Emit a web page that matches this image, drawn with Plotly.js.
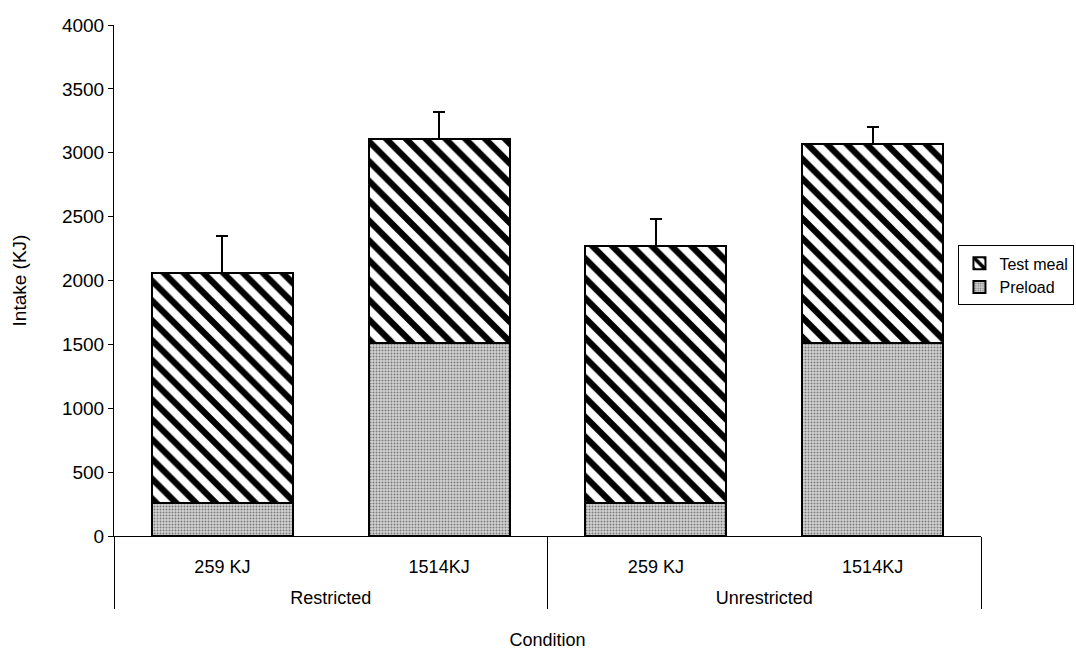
<!DOCTYPE html>
<html>
<head>
<meta charset="utf-8">
<script src="https://cdn.plot.ly/plotly-3.0.1.min.js"></script>
<style>html,body{margin:0;padding:0;background:#fff;}#chart{width:1076px;height:653px;}</style>
</head>
<body>
<div id="chart"></div>
<script>
const groups = ["<br>Restricted", "<br>Restricted", "<br>Unrestricted", "<br>Unrestricted"];
const preloadLabels = ["259 KJ", "1514KJ", "259 KJ", "1514KJ"];
const preload = [259, 1514, 259, 1514];
const testMeal = [1800, 1596, 2011, 1556];
const testMealErr = [290, 210, 210, 135];
const zeros = [0, 0, 0, 0];

const xCats = [groups, preloadLabels];
const fam = "Liberation Sans, Arial, sans-serif";

const traces = [
  {
    type: "bar", name: "Preload", x: xCats, y: preload,
    marker: {color: "#d0d0d0", line: {color: "#000", width: 2},
      pattern: {shape: ".", fgcolor: "#7a7a7a", bgcolor: "#d4d4d4", size: 3, solidity: 0.35}}
  },
  {
    type: "bar", name: "Test meal", x: xCats, y: testMeal,
    marker: {color: "#ffffff", line: {color: "#000", width: 2},
      pattern: {shape: "\\", fgcolor: "#000", bgcolor: "#fff", size: 14, solidity: 0.45}},
    error_y: {type: "data", array: testMealErr, arrayminus: zeros, symmetric: false,
      color: "#000", thickness: 2, width: 6}
  }
];

const layout = {
  width: 1076, height: 653,
  margin: {l: 114, r: 95, t: 25, b: 117, autoexpand: false},
  paper_bgcolor: "#fff", plot_bgcolor: "#fff",
  font: {family: fam, size: 18, color: "#000"},
  barmode: "stack", bargap: 0.35,
  showlegend: true,
  legend: {x: 0.974, xanchor: "left", y: 0.51, yanchor: "middle",
    bgcolor: "rgba(255,255,255,1)",
    bordercolor: "#000", borderwidth: 1, font: {family: fam, size: 16, color: "#000"},
    itemwidth: 30, tracegroupgap: 0},
  xaxis: {
    type: "multicategory",
    title: {text: "Condition", font: {family: fam, size: 18}, standoff: 26},
    showline: true, linecolor: "#000", linewidth: 1,
    showdividers: true, dividercolor: "#000", dividerwidth: 1,
    ticks: "", ticklabelstandoff: 14, tickfont: {family: fam, size: 18}
  },
  yaxis: {
    range: [0, 4000], dtick: 500,
    title: {text: "Intake (KJ)", font: {family: fam, size: 19}, standoff: 30},
    showline: true, linecolor: "#000", linewidth: 1,
    showgrid: false, zeroline: false,
    ticks: "outside", ticklen: 5, tickcolor: "#000",
    tickfont: {family: fam, size: 19}
  }
};

Plotly.newPlot("chart", traces, layout, {displayModeBar: false, staticPlot: true});
</script>
</body>
</html>
